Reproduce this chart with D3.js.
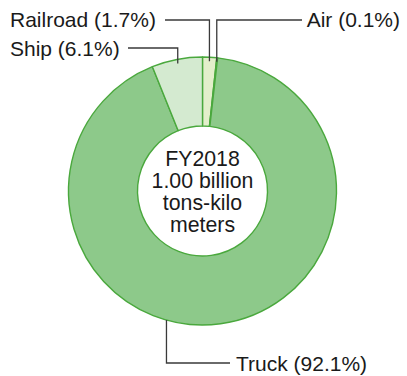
<!DOCTYPE html>
<html>
<head>
<meta charset="utf-8">
<script src="https://cdn.jsdelivr.net/npm/d3@7"></script>
<style>
  html, body { margin: 0; padding: 0; background: #fff; }
  svg { display: block; }
  text { font-family: "Liberation Sans", Arial, Helvetica, sans-serif; fill: #1a1a1a; }
</style>
</head>
<body>
<svg id="chart" width="407" height="376"></svg>
<script>
// Freight transport share by mode (tons-kilometers), clockwise from 12 o'clock
const modes = ["Railroad", "Air", "Truck", "Ship"];
const shares = [1.7, 0.1, 92.1, 6.1];
const fills = ["#e3efcb", "#4fae43", "#8dc98a", "#d4ead0"];
const centerLines = ["FY2018", "1.00 billion", "tons-kilo", "meters"];

const width = 407, height = 376;
const cx = 202.5, cy = 191;
const outerR = 134, innerR = 65;

const svg = d3.select("#chart");
const g = svg.append("g").attr("transform", `translate(${cx},${cy})`);

const pie = d3.pie().sort(null).value(d => d.value);
const arcs = pie(modes.map((m, i) => ({ name: m, value: shares[i], fill: fills[i] })));

const arc = d3.arc().innerRadius(innerR).outerRadius(outerR);

g.selectAll("path.slice")
  .data(arcs)
  .join("path")
  .attr("class", "slice")
  .attr("d", arc)
  .attr("fill", d => d.data.fill)
  .attr("stroke", "#4aa83d")
  .attr("stroke-width", 1.4)
  .attr("stroke-linejoin", "round");

// Label layout: text position and the elbow of each leader line
const labelLayout = {
  Railroad: { tx: 10, ty: 27, anchor: "start", elbowY: 20, lineStartX: 165 },
  Air:      { tx: 400, ty: 27, anchor: "end", elbowY: 20, lineStartX: 302 },
  Ship:     { tx: 10, ty: 56, anchor: "start", elbowY: 48, lineStartX: 128 },
  Truck:    { tx: 236, ty: 371, anchor: "start", elbowY: 363, lineStartX: 230, edgeAngle: 195.6 }
};

// point on a slice used as the leader tip
function tipPoint(d, lay) {
  if (lay.edgeAngle !== undefined) {
    const a = lay.edgeAngle * Math.PI / 180;
    return [cx + outerR * Math.sin(a), cy - outerR * Math.cos(a)];
  }
  const a = (d.startAngle + d.endAngle) / 2;
  const rr = outerR - 4;
  return [cx + rr * Math.sin(a), cy - rr * Math.cos(a)];
}

arcs.forEach(d => {
  const lay = labelLayout[d.data.name];
  const [px, py] = tipPoint(d, lay);
  svg.append("path")
    .attr("d", `M${lay.lineStartX},${lay.elbowY}H${px}V${py}`)
    .attr("fill", "none")
    .attr("stroke", "#3a3a3a")
    .attr("stroke-width", 1.3);
  svg.append("text")
    .attr("x", lay.tx)
    .attr("y", lay.ty)
    .attr("text-anchor", lay.anchor)
    .attr("font-size", 21)
    .text(`${d.data.name} (${d3.format(".1f")(d.data.value)}%)`);
});

// Center caption
const center = svg.append("text")
  .attr("text-anchor", "middle")
  .attr("font-size", 21.3);
centerLines.forEach((line, i) => {
  center.append("tspan")
    .attr("x", cx)
    .attr("y", 166 + i * 22)
    .text(line);
});
</script>
</body>
</html>
